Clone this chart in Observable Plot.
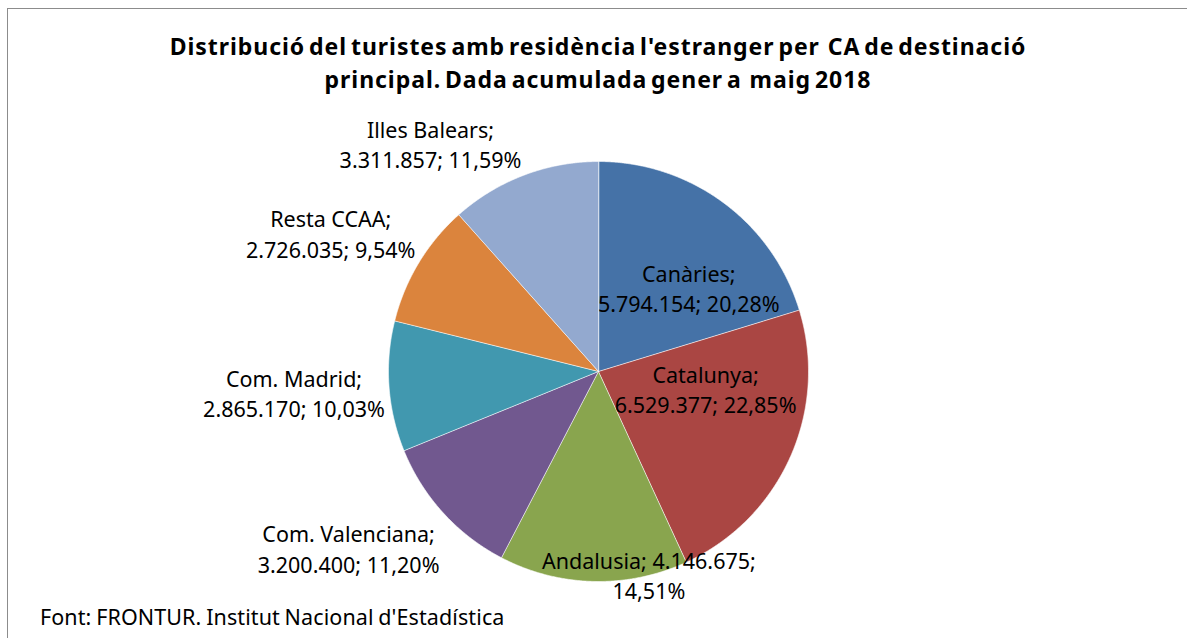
<!DOCTYPE html>
<html>
<head>
<meta charset="utf-8">
<script src="https://cdn.jsdelivr.net/npm/d3@7"></script>
<script src="https://cdn.jsdelivr.net/npm/@observablehq/plot@0.6"></script>
<style>
  html, body { margin: 0; padding: 0; background: #fff; }
  #wrap { position: relative; width: 1187px; height: 638px; overflow: hidden; font-family: "Noto Sans", sans-serif; color: #000; }
  #frame { position: absolute; left: 7px; top: 8px; width: 1300px; height: 800px; border: 1.5px solid #8c8c8c; box-sizing: border-box; }
  #title { position: absolute; left: 0; width: 1196px; top: 30px; text-align: center; font-weight: bold; font-size: 23px; letter-spacing: 0.95px; word-spacing: -3px; line-height: 33px; white-space: nowrap; }
  #chart { position: absolute; left: 0; top: 100px; }
  #caption { position: absolute; left: 40px; top: 603px; font-size: 21.5px; line-height: 28px; word-spacing: -1px; letter-spacing: 0.1px; white-space: nowrap; }
</style>
</head>
<body>
<div id="wrap">
  <div id="frame"></div>
  <div id="title">Distribució del turistes amb residència l'estranger per&nbsp; CA de destinació<br>principal. Dada acumulada gener a&nbsp; maig 2018</div>
  <div id="chart"></div>
  <div id="caption">Font: FRONTUR. Institut Nacional d'Estadística</div>
</div>
<script>
// ---- data ----
const categories = ["Canàries", "Catalunya", "Andalusia", "Com. Valenciana", "Com. Madrid", "Resta CCAA", "Illes Balears"];
const visitors = [5794154, 6529377, 4146675, 3200400, 2865170, 2726035, 3311857];
const sharesText = ["20,28%", "22,85%", "14,51%", "11,20%", "10,03%", "9,54%", "11,59%"];
const visitorsText = ["5.794.154", "6.529.377", "4.146.675", "3.200.400", "2.865.170", "2.726.035", "3.311.857"];
const colors = ["#4572A7", "#AA4643", "#89A54E", "#71588F", "#4198AF", "#DB843D", "#93A9CF"];

// ---- layout (unit = pie radius) ----
const W = 1187, H = 500, R = 210, CX = 598, CY = 271;
// label anchors in pie-radius units relative to pie centre (Excel "best fit" placement)
const labelAt = [[0.43, 0.40], [0.51, -0.08], [0.24, -0.965], [-1.19, -0.84], [-1.45, -0.10], [-1.275, 0.66], [-0.80, 1.085]];
const labelText = [
  `Canàries;\n${visitorsText[0]}; ${sharesText[0]}`,
  `Catalunya;\n${visitorsText[1]}; ${sharesText[1]}`,
  `Andalusia; ${visitorsText[2]};\n${sharesText[2]}`,
  `Com. Valenciana;\n${visitorsText[3]}; ${sharesText[3]}`,
  `Com. Madrid;\n${visitorsText[4]}; ${sharesText[4]}`,
  `Resta CCAA;\n${visitorsText[5]}; ${sharesText[5]}`,
  `Illes Balears;\n${visitorsText[6]}; ${sharesText[6]}`
];

const arcs = d3.pie().sort(null).value(d => d)(visitors);
const poly = [];
arcs.forEach((a, i) => {
  poly.push({cat: categories[i], x: 0, y: 0});
  const n = Math.max(2, Math.ceil((a.endAngle - a.startAngle) / 0.005));
  for (let k = 0; k <= n; k++) {
    const t = a.startAngle + (a.endAngle - a.startAngle) * k / n;
    poly.push({cat: categories[i], x: Math.sin(t), y: Math.cos(t)});
  }
});
const labels = categories.map((c, i) => ({cat: c, x: labelAt[i][0], y: labelAt[i][1], text: labelText[i]}));

const chart = Plot.plot({
  width: W, height: H,
  margin: 0,
  x: {domain: [-CX / R, (W - CX) / R], range: [0, W], axis: null},
  y: {domain: [-(H - CY) / R, CY / R], range: [H, 0], axis: null},
  color: {domain: categories, range: colors},
  style: {fontFamily: "Noto Sans, sans-serif", background: "transparent", overflow: "visible"},
  marks: [
    Plot.line(poly, {x: "x", y: "y", z: "cat", fill: "cat", stroke: "#ffffff", strokeWidth: 0.6, curve: "linear-closed"}),
    Plot.text(labels, {x: "x", y: "y", text: "text", fontSize: 21.5, lineHeight: 1.4, fill: "#000", textAnchor: "middle"})
  ]
});
document.getElementById("chart").appendChild(chart);
</script>
</body>
</html>
